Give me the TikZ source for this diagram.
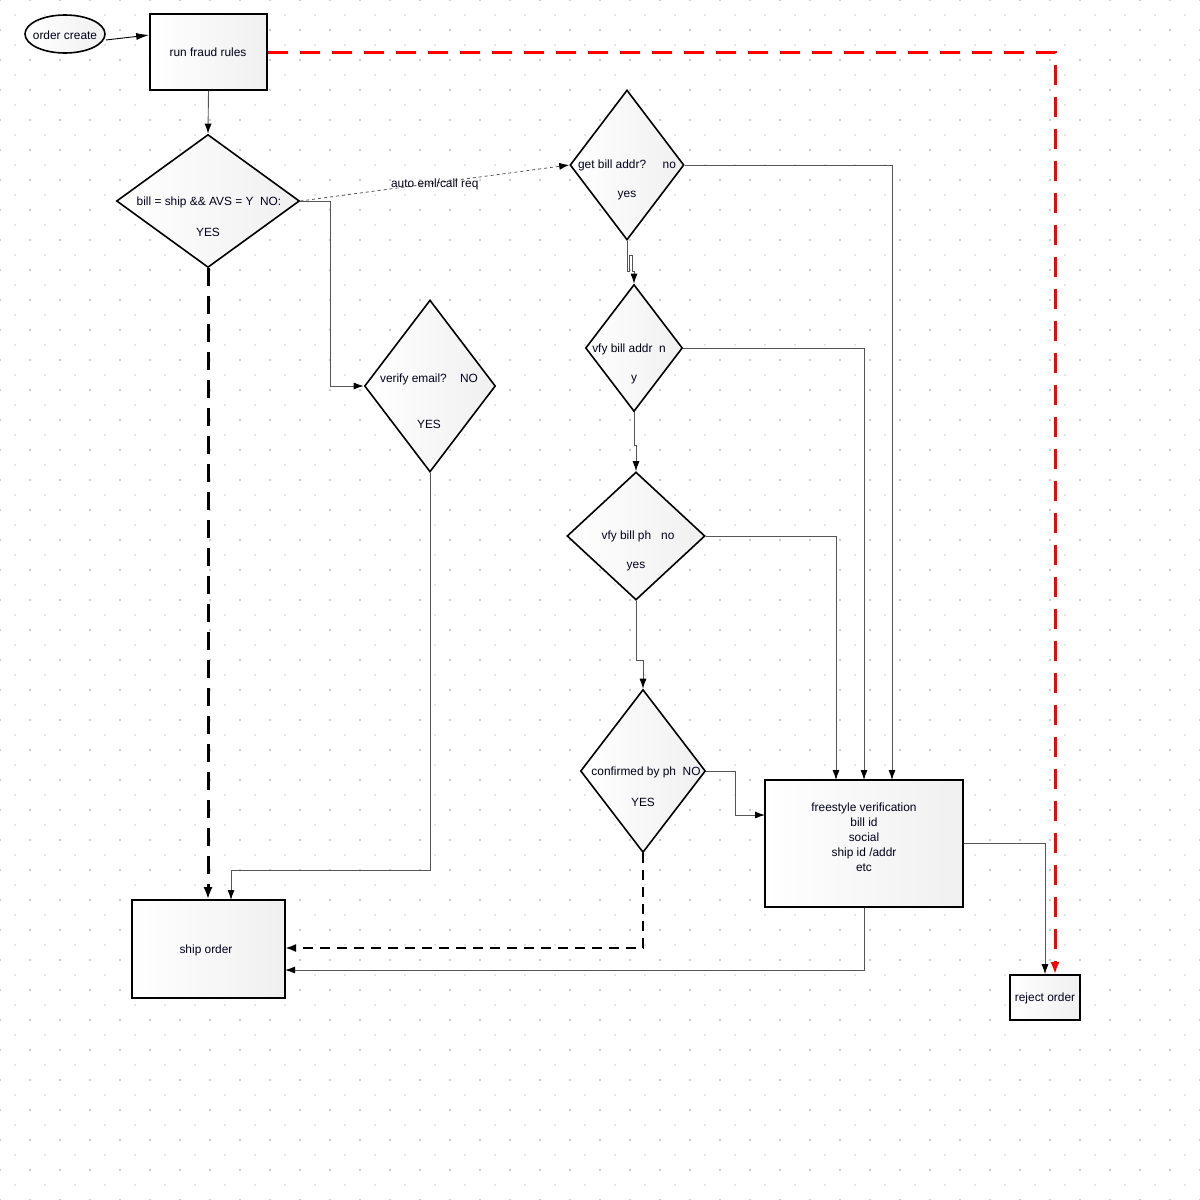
\documentclass[tikz,border=0pt]{standalone}
\usepackage{fontspec}
\setmainfont{Liberation Sans}
\usetikzlibrary{shapes.geometric,arrows.meta}
\definecolor{dotc}{HTML}{CCCCCC}
\definecolor{linec}{HTML}{555555}
\begin{document}
\begin{tikzpicture}[x=1pt,y=-1pt,
  font=\fontsize{11.9}{13}\selectfont,
  boxst/.style={draw=black,line width=1.6pt,left color=white,right color=black!6,inner sep=0pt},
  dia/.style={diamond,draw=black,line width=1.6pt,left color=white,right color=black!6,inner sep=0pt},
  conn/.style={draw=linec,line width=0.9pt,-{Latex[length=10pt,width=7pt,color=black]}},
  lbl/.style={inner sep=0pt,text=black!90!blue,yshift=-1.5pt}
]
\useasboundingbox (0,0) rectangle (1200,1200);
\fill[white] (0,0) rectangle (1200,1200);
% dotted grid
\foreach \i in {0,...,40}{
  \foreach \j in {0,...,40}{
    \fill[dotc] (30*\i,30*\j) circle (1.4);
    \fill[dotc] (30*\i+15,30*\j+15) circle (0.9);
  }
}
% nodes
\node[ellipse,draw=black,line width=1.6pt,left color=white,right color=black!6,minimum width=80pt,minimum height=38pt,inner sep=0pt] (oc) at (65,34) {};
\node[lbl] at (oc.center) {order create};
\node[boxst,minimum width=117pt,minimum height=76pt] (rf) at (208.5,52) {};
\node[lbl] at (208,51) {run fraud rules};
\node[dia,minimum width=183pt,minimum height=133pt] (d1) at (208,201) {};
\node[lbl] at (209,201) {bill = ship \&\& AVS = Y\ \ NO:};
\node[lbl] at (208,231) {YES};
\node[dia,minimum width=114pt,minimum height=150pt] (gb) at (627,165) {};
\node[lbl] at (627,164) {get bill addr?\ \ \ \ \ no};
\node[lbl] at (627,194) {yes};
\node[dia,minimum width=131pt,minimum height=172pt] (ve) at (430,386) {};
\node[lbl] at (429,378) {verify email?\ \ \ \ NO};
\node[lbl] at (429,423) {YES};
\node[dia,minimum width=97pt,minimum height=127pt] (va) at (634,348) {};
\node[lbl] at (629,348) {vfy bill addr\ \ n};
\node[lbl] at (634,378) {y};
\node[dia,minimum width=138pt,minimum height=128pt] (vp) at (636,536) {};
\node[lbl] at (638,535) {vfy bill ph\ \ \ no};
\node[lbl] at (636,565) {yes};
\node[dia,minimum width=125pt,minimum height=163pt] (cp) at (643,771) {};
\node[lbl] at (646,771) {confirmed by ph\ \ NO};
\node[lbl] at (643,801) {YES};
\node[boxst,minimum width=198pt,minimum height=127pt] (fv) at (864,843.5) {};
\node[lbl,align=center,font=\fontsize{11.9}{15}\selectfont] at (864,836) {freestyle verification\\bill id\\social\\ship id /addr\\etc};
\node[boxst,minimum width=153pt,minimum height=98pt] (so) at (208.5,949) {};
\node[lbl] at (206,949) {ship order};
\node[boxst,minimum width=70pt,minimum height=45pt] (ro) at (1045,997.5) {};
\node[lbl] at (1045,997) {reject order};
% connectors
\draw[line width=0.9pt,black,-{Latex[length=13pt,width=7pt]}] (oc.east) ++(0,6) -- (rf.west |- 0,35);
\draw[conn] (rf.south) -- (d1.north);
\draw[red,line width=3pt,dash pattern=on 20pt off 12pt,-{Latex[length=12pt,width=9pt]}] (rf.east) -- (1055,52) -- (ro.north -| 1055,0);
\draw[linec,line width=0.8pt,dashed,-{Latex[length=10pt,width=7pt,color=black]}] (d1.east) -- node[lbl,pos=0.5] {auto eml/call req} (gb.west);
\draw[conn] (d1.east) -- (330,201) |- (ve.west);
\draw[black,line width=3pt,dash pattern=on 18pt off 10pt,-{Latex[length=12pt,width=9pt]}] (d1.south) -- (so.north -| d1.south);
\draw[conn] (ve.south) -- (430,870) -| (231,900);
\draw[conn] (gb.east) -| (892,780);
\draw[conn] (gb.south) -- (627,271) -- (629,271) -- (629,255) -- (632,255) -- (632,271) -- (634,271) -- (va.north);
\draw[conn] (va.east) -| (864,780);
\draw[conn] (va.south) -- (634,445) -- (636,445) -- (vp.north);
\draw[conn] (vp.east) -| (836,780);
\draw[conn] (vp.south) -- (636,660) -- (643,660) -- (cp.north);
\draw[conn] (cp.east) -- (735,771) |- (765,815);
\draw[black,line width=2pt,dash pattern=on 10pt off 7pt,-{Latex[length=11pt,width=8pt]}] (cp.south) |- (285,948);
\draw[conn] (fv.south) |- (285,970);
\draw[conn] (fv.east) -| (ro.north -| 1045,0);
\end{tikzpicture}
\end{document}
